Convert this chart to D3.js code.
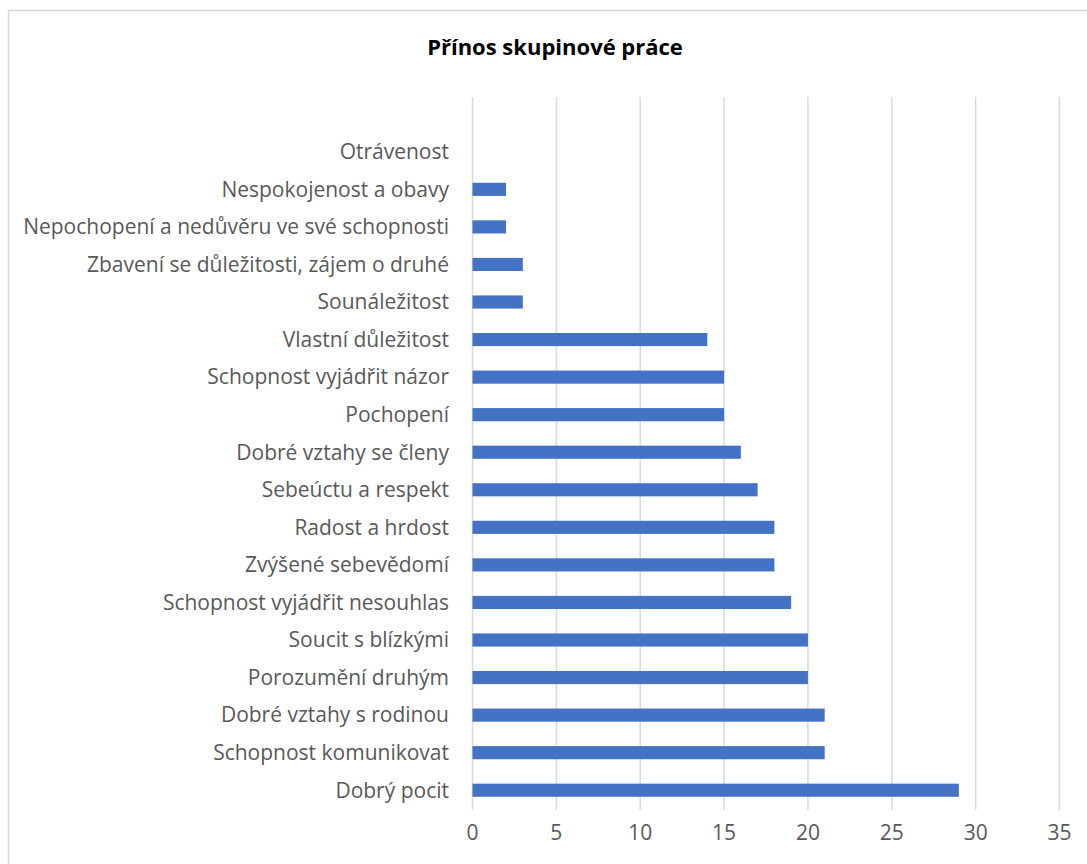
<!DOCTYPE html>
<html>
<head>
<meta charset="utf-8">
<script src="https://cdn.jsdelivr.net/npm/d3@7"></script>
<style>
  body { margin: 0; background: #fff; }
  text { font-family: "Open Sans", Lato, sans-serif; }
</style>
</head>
<body>
<div id="chart"></div>
<script>
// categories top to bottom, as in the picture
var categories = [
    "Otrávenost",
    "Nespokojenost a obavy",
    "Nepochopení a nedůvěru ve své schopnosti",
    "Zbavení se důležitosti, zájem o druhé",
    "Sounáležitost",
    "Vlastní důležitost",
    "Schopnost vyjádřit názor",
    "Pochopení",
    "Dobré vztahy se členy",
    "Sebeúctu a respekt",
    "Radost a hrdost",
    "Zvýšené sebevědomí",
    "Schopnost vyjádřit nesouhlas",
    "Soucit s blízkými",
    "Porozumění druhým",
    "Dobré vztahy s rodinou",
    "Schopnost komunikovat",
    "Dobrý pocit"
];
var values = [0, 2, 2, 3, 3, 14, 15, 15, 16, 17, 18, 18, 19, 20, 20, 21, 21, 29];
var xTicks = [0, 5, 10, 15, 20, 25, 30, 35];
var title = "Přínos skupinové práce";

var W = 1087, H = 864;
var svg = d3.select("#chart").append("svg")
    .attr("width", W)
    .attr("height", H);

// chart frame
svg.append("rect")
    .attr("x", 8.5).attr("y", 10.5)
    .attr("width", W + 20).attr("height", H + 20)
    .attr("fill", "none")
    .attr("stroke", "#d9d9d9")
    .attr("stroke-width", 1.5);

svg.append("text")
    .attr("x", 555).attr("y", 55)
    .attr("text-anchor", "middle")
    .style("font-size", "22px")
    .style("font-weight", "bold")
    .attr("fill", "#000")
    .text(title);

var plotTop = 97, plotBottom = 810;

var x = d3.scaleLinear().domain([0, 35]).range([472.5, 1059.5]);
var y = d3.scaleBand().domain(categories).range([133, 809]).paddingInner(0.65).paddingOuter(0.325);

// vertical gridlines
svg.append("g").selectAll("line")
    .data(xTicks)
    .join("line")
    .attr("x1", d => x(d)).attr("x2", d => x(d))
    .attr("y1", plotTop).attr("y2", plotBottom)
    .attr("stroke", "#d9d9d9")
    .attr("stroke-width", 1.5);

// bars
svg.append("g").selectAll("rect")
    .data(values)
    .join("rect")
    .attr("x", x(0))
    .attr("y", (d, i) => y(categories[i]))
    .attr("width", d => x(d) - x(0))
    .attr("height", y.bandwidth())
    .attr("fill", "#4472c4");

// category labels
svg.append("g").selectAll("text")
    .data(categories)
    .join("text")
    .attr("x", 449)
    .attr("y", d => y(d) + y.bandwidth() / 2)
    .attr("dy", "0.35em")
    .attr("text-anchor", "end")
    .style("font-size", "21px")
    .attr("fill", "#595959")
    .text(d => d);

// x tick labels
svg.append("g").selectAll("text")
    .data(xTicks)
    .join("text")
    .attr("x", d => x(d))
    .attr("y", 833)
    .attr("dy", "0.35em")
    .attr("text-anchor", "middle")
    .style("font-size", "21px")
    .attr("fill", "#595959")
    .text(d => d);
</script>
</body>
</html>
